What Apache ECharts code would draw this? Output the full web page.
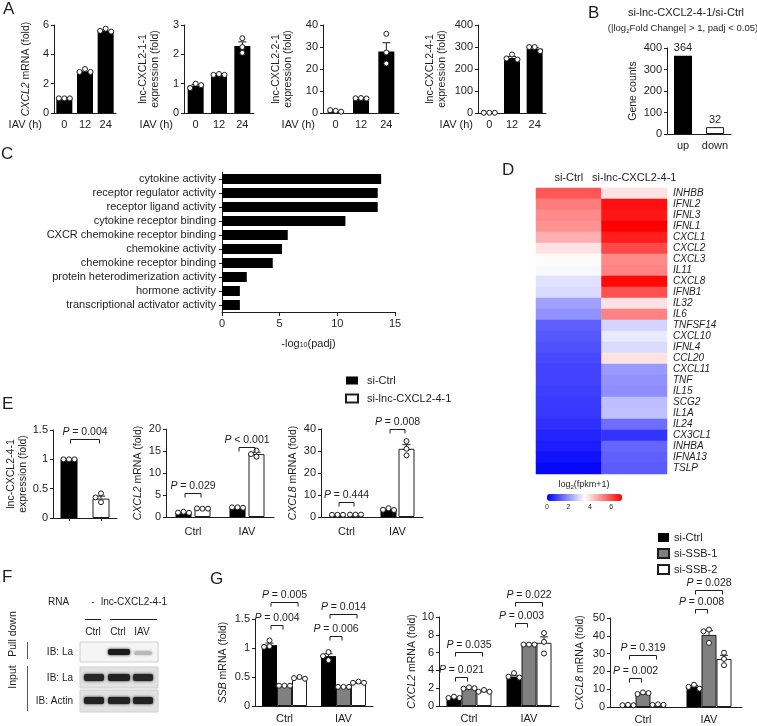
<!DOCTYPE html>
<html><head><meta charset="utf-8">
<script src="https://cdn.jsdelivr.net/npm/echarts@6/dist/echarts.min.js"></script>
<style>html,body{margin:0;padding:0;background:#fff}#c{width:757px;height:726px}</style>
</head><body><div id="c"></div>
<script>
// ================= DATA =================
const iavTimes = ['0', '12', '24'];
const a1Bars = [1.0, 2.85, 5.6];
const a1Dots = [[1.0, 1.0, 1.0], [3.0, 2.8, 2.8], [5.75, 5.6, 5.55]];
const a2Bars = [0.93, 1.3, 2.28];
const a2Dots = [[1.0, 0.85, 0.95], [1.33, 1.3, 1.3], [2.55, 2.25, 2.05]];
const a3Bars = [0.8, 6.6, 28];
const a3Dots = [[1.0, 1.3, 0.6], [6.8, 6.7, 6.6], [36, 27.5, 22.5]];
const a4Bars = [1, 250, 292];
const a4Dots = [[1, 1, 1], [266, 248, 243], [300, 300, 281]];

const bCats = ['up', 'down'];
const bCounts = [364, 32];

const cTerms = ['cytokine activity', 'receptor regulator activity', 'receptor ligand activity',
  'cytokine receptor binding', 'CXCR chemokine receptor binding', 'chemokine activity',
  'chemokine receptor binding', 'protein heterodimerization activity', 'hormone activity',
  'transcriptional activator activity'];
const cLogP = [13.8, 13.5, 13.5, 10.7, 5.7, 5.2, 4.4, 2.15, 1.55, 1.55];

const dCols = ['si-Ctrl', 'si-lnc-CXCL2-4-1'];
const dGenes = ['INHBB', 'IFNL2', 'IFNL3', 'IFNL1', 'CXCL1', 'CXCL2', 'CXCL3', 'IL11', 'CXCL8', 'IFNB1',
  'IL32', 'IL6', 'TNFSF14', 'CXCL10', 'IFNL4', 'CCL20', 'CXCL11', 'TNF', 'IL15', 'SCG2', 'IL1A', 'IL24',
  'CX3CL1', 'INHBA', 'IFNA13', 'TSLP'];
const dCtrl = [5.8, 5.3, 5.1, 5.0, 4.6, 3.9, 3.55, 3.4, 3.1, 3.0, 2.2, 2.0, 1.3, 1.2, 1.1, 1.0, 0.9, 0.9, 0.85, 0.8, 0.75, 0.65, 0.5, 0.4, 0.25, 0.1];
const dLnc = [3.9, 6.8, 6.7, 7.0, 6.6, 6.0, 5.1, 5.2, 6.9, 5.9, 3.9, 5.2, 2.9, 3.2, 3.0, 3.9, 2.1, 2.0, 1.95, 2.6, 2.65, 1.5, 0.7, 1.4, 1.3, 1.25];
const dScaleMax = 7;

const eGroups = ['si-Ctrl', 'si-lnc-CXCL2-4-1'];
const eConds = ['Ctrl', 'IAV'];
const e1Vals = [1.0, 0.33];
const e1Dots = [[1.0, 1.0, 1.0], [0.42, 0.35, 0.27]];
const e1P = [[0, 0, 1, 0, 1.35, '= 0.004']];
const e2Ctrl = [1.0, 2.1], e2Lnc = [1.9, 14.3];
const e2CtrlDots = [[1.2, 1.0, 0.95], [2.2, 2.2, 2.1]], e2LncDots = [[1.9, 1.95, 1.9], [15.1, 14.3, 13.7]];
const e2P = [[0, 0, 0, 1, 5.4, '= 0.029'], [1, 0, 1, 1, 16, '< 0.001']];
const e3Ctrl = [1.0, 3.5], e3Lnc = [1.2, 31];
const e3CtrlDots = [[1.0, 1.0, 1.0], [4.0, 3.3, 3.2]], e3LncDots = [[1.1, 1.1, 1.1], [34.5, 31, 28]];
const e3P = [[0, 0, 0, 1, 6.8, '= 0.444'], [1, 0, 1, 1, 40, '= 0.008']];

const gGroups = ['si-Ctrl', 'si-SSB-1', 'si-SSB-2'];
const gConds = ['Ctrl', 'IAV'];
const g1Ctrl = [1.05, 0.86], g1S1 = [0.35, 0.33], g1S2 = [0.48, 0.40];
const g1CtrlDots = [[1.13, 1.03, 1.02], [0.93, 0.86, 0.79]], g1S1Dots = [[0.35, 0.35, 0.35], [0.33, 0.33, 0.33]], g1S2Dots = [[0.5, 0.48, 0.47], [0.42, 0.4, 0.4]];
const g1P = [[0, 0, 0, 1, 1.40, '= 0.004'], [0, 0, 0, 2, 1.785, '= 0.005'], [1, 0, 1, 1, 1.2, '= 0.006'], [1, 0, 1, 2, 1.58, '= 0.014']];
const g2Ctrl = [0.95, 3.3], g2S1 = [1.95, 6.85], g2S2 = [1.65, 7.1];
const g2CtrlDots = [[1.05, 0.9, 0.9], [3.7, 3.3, 3.2]], g2S1Dots = [[2.1, 1.95, 2.0], [6.9, 6.9, 6.9]], g2S2Dots = [[1.8, 1.6, 1.6], [8.2, 7.2, 5.9]];
const g2P = [[0, 0, 0, 1, 3.26, '= 0.021'], [0, 0, 0, 2, 6.07, '= 0.035'], [1, 0, 1, 1, 9.3, '= 0.003'], [1, 0, 1, 2, 11.7, '= 0.022']];
const g3Ctrl = [1.0, 11.5], g3S1 = [7.5, 40.5], g3S2 = [1.3, 27];
const g3CtrlDots = [[1.2, 1.0, 1.0], [12.5, 11.3, 10.3]], g3S1Dots = [[8.2, 7.3, 7.8], [43.5, 42.5, 36]], g3S2Dots = [[1.5, 1.2, 1.2], [30.5, 27, 23.5]];
const g3P = [[0, 0, 0, 1, 16.3, '= 0.002'], [0, 0, 0, 2, 29.2, '= 0.319'], [1, 0, 1, 1, 55, '= 0.008'], [1, 0, 1, 2, 65.5, '= 0.028']];

// ================= BUILD =================
const FONT = 'Liberation Sans, Arial, sans-serif';
const INK = '#1e1e1e';
const BLACK = '#000000', GRAY = '#808080', WHITE = '#ffffff';
const grids = [], xAxes = [], yAxes = [], series = [], graphics = [];
const italicRich = { i: { fontStyle: 'italic', fontFamily: FONT, color: INK, fontSize: 10.5 } };

function sem(a) {
  const n = a.length, m = a.reduce((s, v) => s + v, 0) / n;
  const sd = Math.sqrt(a.reduce((s, v) => s + (v - m) * (v - m), 0) / (n - 1));
  return sd / Math.sqrt(n);
}

function dotsRenderer(nS, step) {
  const r = 2.5, d = 2 * r + 0.5;
  return function (params, api) {
    const k = api.value(0), m = api.value(1), e = api.value(2), s = api.value(3);
    const cx = api.coord([k, 0])[0] + (s - (nS - 1) / 2) * step;
    const kids = [];
    if (e > 0.0001) {
      const y1 = api.coord([k, m])[1], y2 = api.coord([k, m + e])[1];
      if (y1 - y2 > 1) {
        kids.push({ type: 'line', shape: { x1: cx, y1: y1, x2: cx, y2: y2 }, style: { stroke: INK, lineWidth: 1 } });
        kids.push({ type: 'line', shape: { x1: cx - 4, y1: y2, x2: cx + 4, y2: y2 }, style: { stroke: INK, lineWidth: 1 } });
      }
    }
    const placed = [];
    for (let j = 4; j < 7; j++) {
      const v = api.value(j);
      if (v == null || isNaN(v)) continue;
      const y = api.coord([k, v])[1];
      const cands = [0, -d, d, -2 * d, 2 * d];
      for (const o of cands) {
        if (placed.every(p => Math.hypot(p[0] - o, p[1] - y) >= d - 0.3)) { placed.push([o, y]); break; }
      }
    }
    placed.forEach(p => kids.push({ type: 'circle', shape: { cx: cx + p[0], cy: p[1], r: r }, style: { fill: '#fff', stroke: INK, lineWidth: 1 }, z2: 10 }));
    return { type: 'group', children: kids };
  };
}

function bracketRenderer(nS, step, list) {
  return function (params, api) {
    const b = list[params.dataIndex];
    const p1 = api.coord([b[0], b[4]]), p2 = api.coord([b[2], b[4]]);
    const x1 = p1[0] + (b[1] - (nS - 1) / 2) * step + 1.5;
    const x2 = p2[0] + (b[3] - (nS - 1) / 2) * step - 1.5;
    const y = Math.round(p1[1]) + 0.5;
    return {
      type: 'group', children: [
        { type: 'polyline', shape: { points: [[x1, y + 4], [x1, y], [x2, y], [x2, y + 4]] }, style: { stroke: INK, lineWidth: 1, fill: null } },
        { type: 'text', x: (x1 + x2) / 2, y: y - 2, style: { text: '{i|P} ' + b[5], align: 'center', verticalAlign: 'bottom', fontSize: 10.5, fontFamily: FONT, fill: INK, rich: { i: { fontStyle: 'italic', fontSize: 10.5, fontFamily: FONT, fill: INK } } } }
      ]
    };
  };
}

function addBarPanel(c) {
  const gi = grids.length;
  grids.push({ left: c.box[0], top: c.box[1], width: c.box[2], height: c.box[3] });
  xAxes.push({
    type: 'category', gridIndex: gi, data: c.cats,
    axisLine: { lineStyle: { color: INK } },
    axisTick: { show: !!c.xTicks, alignWithLabel: true, length: 3, lineStyle: { color: INK } },
    axisLabel: { show: c.xLabels !== false, interval: 0, color: INK, fontSize: 11, fontFamily: FONT, margin: c.xMargin || 6 },
    name: c.xName || '', nameLocation: 'start', nameGap: c.xNameGap || 10,
    nameTextStyle: { color: INK, fontSize: 11, fontFamily: FONT, align: 'right', verticalAlign: 'top', padding: [c.xMargin || 6, 0, 0, 0] }
  });
  yAxes.push({
    type: 'value', gridIndex: gi, min: 0, max: c.yMax, interval: c.yInterval,
    splitLine: { show: false },
    axisLine: { show: true, lineStyle: { color: INK } },
    axisTick: { show: true, length: 3, lineStyle: { color: INK } },
    axisLabel: { color: INK, fontSize: 11, fontFamily: FONT, margin: 5 },
    name: c.yName, nameLocation: 'middle', nameGap: c.yNameGap,
    nameTextStyle: { color: INK, fontSize: 10.5, fontFamily: FONT, lineHeight: 12, rich: italicRich }
  });
  const nS = c.groups.length, bw = c.bw, gap = c.gap || 0, step = bw + gap;
  c.groups.forEach((g, s) => {
    series.push({
      type: 'bar', name: g.name, xAxisIndex: gi, yAxisIndex: gi, barWidth: bw, barGap: (gap / bw * 100) + '%',
      data: g.values.map((v, k) => g.colors ? { value: v, itemStyle: { color: g.colors[k], borderColor: INK, borderWidth: g.colors[k] === BLACK ? 0 : 1 } } : v),
      itemStyle: { color: g.color || BLACK, borderColor: INK, borderWidth: (g.color || BLACK) === BLACK ? 0 : 1 },
      label: g.label ? { show: true, position: 'top', color: INK, fontSize: 11, fontFamily: FONT, distance: 2 } : { show: false },
      silent: true, z: 2
    });
  });
  const dd = [];
  c.groups.forEach((g, s) => {
    if (!g.dots) return;
    g.values.forEach((v, k) => { dd.push([k, v, sem(g.dots[k]), s].concat(g.dots[k])); });
  });
  if (dd.length) series.push({ type: 'custom', xAxisIndex: gi, yAxisIndex: gi, data: dd, renderItem: dotsRenderer(nS, step), z: 5, silent: true, encode: { x: 0, y: 1 } });
  if (c.brackets) series.push({ type: 'custom', xAxisIndex: gi, yAxisIndex: gi, data: c.brackets.map(b => [b[0], b[4]]), renderItem: bracketRenderer(nS, step, c.brackets), z: 6, silent: true, encode: { x: 0, y: 1 } });
  return gi;
}

function text(x, y, str, opt) {
  graphics.push(Object.assign({ type: 'text', x: x, y: y, silent: true, style: Object.assign({ text: str, fill: INK, fontSize: 11, fontFamily: FONT, align: 'left', verticalAlign: 'middle' }, (opt && opt.style) || {}) }, (opt && opt.el) || {}));
}

// ---------- Panel A ----------
addBarPanel({ box: [54, 25, 62, 88], cats: iavTimes, yMax: 6, yInterval: 2, yName: '{i|CXCL2} mRNA (fold)', yNameGap: 22, xName: 'IAV (h)', xNameGap: 12, bw: 16, groups: [{ values: a1Bars, dots: a1Dots }] });
addBarPanel({ box: [184, 25, 70, 88], cats: iavTimes, yMax: 3, yInterval: 1, yName: 'lnc-CXCL2-1-1\nexpression (fold)', yNameGap: 23, xName: 'IAV (h)', xNameGap: 11, bw: 16, groups: [{ values: a2Bars, dots: a2Dots }] });
addBarPanel({ box: [323, 25, 76, 88], cats: iavTimes, yMax: 40, yInterval: 10, yName: 'lnc-CXCL2-2-1\nexpression (fold)', yNameGap: 29, xName: 'IAV (h)', xNameGap: 8, bw: 16, groups: [{ values: a3Bars, dots: a3Dots }] });
addBarPanel({ box: [478, 25, 68, 88], cats: iavTimes, yMax: 400, yInterval: 100, yName: 'lnc-CXCL2-4-1\nexpression (fold)', yNameGap: 30, xName: 'IAV (h)', xNameGap: 5, bw: 16, groups: [{ values: a4Bars, dots: a4Dots }] });

// ---------- Panel B ----------
addBarPanel({ box: [667, 48, 64, 86], cats: bCats, yMax: 400, yInterval: 100, yName: 'Gene counts', yNameGap: 28, bw: 18, xMargin: 6,
  groups: [{ values: bCounts, colors: [BLACK, WHITE], label: true }] });

// ---------- Panel C ----------
(function () {
  const gi = grids.length;
  grids.push({ left: 222, top: 172, width: 173, height: 140 });
  xAxes.push({ type: 'value', gridIndex: gi, min: 0, max: 15, interval: 5, splitLine: { show: false },
    axisLine: { show: true, lineStyle: { color: INK } }, axisTick: { show: true, length: 4, lineStyle: { color: INK } },
    axisLabel: { color: INK, fontSize: 11, fontFamily: FONT, margin: 6 },
    name: '-log{s|10}(padj)', nameLocation: 'middle', nameGap: 26,
    nameTextStyle: { color: INK, fontSize: 11, fontFamily: FONT, rich: { s: { fontSize: 7, fontFamily: FONT, color: INK, verticalAlign: 'bottom', lineHeight: 8, padding: [8, 0, 0, 0] } } } });
  yAxes.push({ type: 'category', gridIndex: gi, data: cTerms, inverse: true,
    axisLine: { show: true, lineStyle: { color: INK } }, axisTick: { show: true, alignWithLabel: true, interval: 0, length: 3, lineStyle: { color: INK } },
    axisLabel: { interval: 0, color: INK, fontSize: 11, fontFamily: FONT, margin: 6 } });
  series.push({ type: 'bar', xAxisIndex: gi, yAxisIndex: gi, data: cLogP, barWidth: 10, itemStyle: { color: BLACK }, silent: true });
})();

// ---------- Panel D (heatmap) ----------
let heatIdx;
(function () {
  const gi = grids.length;
  grids.push({ left: 536, top: 188, width: 131, height: 286 });
  xAxes.push({ type: 'category', gridIndex: gi, data: dCols, position: 'top', axisLine: { show: false }, axisTick: { show: false },
    axisLabel: { interval: 0, color: INK, fontSize: 11, fontFamily: FONT, margin: 5 } });
  yAxes.push({ type: 'category', gridIndex: gi, data: dGenes, inverse: true, position: 'right', axisLine: { show: false }, axisTick: { show: false },
    axisLabel: { interval: 0, color: INK, fontSize: 10, fontStyle: 'italic', fontFamily: FONT, margin: 6 } });
  const hd = [];
  dGenes.forEach((g, i) => { hd.push([0, i, dCtrl[i]]); hd.push([1, i, dLnc[i]]); });
  heatIdx = series.length;
  series.push({ type: 'heatmap', xAxisIndex: gi, yAxisIndex: gi, data: hd, silent: true, itemStyle: { borderWidth: 0 } });
  // colour bar scale axis
  const gc = grids.length;
  grids.push({ left: 547, top: 494, width: 75, height: 7 });
  xAxes.push({ type: 'value', gridIndex: gc, min: 0, max: dScaleMax, interval: 2, axisLine: { show: false }, axisTick: { show: false }, splitLine: { show: false },
    axisLabel: { color: INK, fontSize: 7, fontFamily: FONT, margin: 3, showMaxLabel: false } });
  yAxes.push({ type: 'value', gridIndex: gc, show: false, min: 0, max: 1 });
})();

// ---------- Panel E ----------
addBarPanel({ box: [53, 430, 64, 88], cats: eGroups, yMax: 1.5, yInterval: 0.5, yName: 'lnc-CXCL2-4-1\nexpression (fold)', yNameGap: 24, xLabels: false, xTicks: true, bw: 17,
  groups: [{ values: e1Vals, colors: [BLACK, WHITE], dots: e1Dots }], brackets: e1P });
addBarPanel({ box: [166, 429, 108, 88], cats: eConds, yMax: 20, yInterval: 5, yName: '{i|CXCL2} mRNA (fold)', yNameGap: 22, xMargin: 9, bw: 16, gap: 3,
  groups: [{ name: eGroups[0], color: BLACK, values: e2Ctrl, dots: e2CtrlDots }, { name: eGroups[1], color: WHITE, values: e2Lnc, dots: e2LncDots }], brackets: e2P });
addBarPanel({ box: [321, 429, 102, 88], cats: eConds, yMax: 40, yInterval: 10, yName: '{i|CXCL8} mRNA (fold)', yNameGap: 22, xMargin: 9, bw: 16, gap: 2,
  groups: [{ name: eGroups[0], color: BLACK, values: e3Ctrl, dots: e3CtrlDots }, { name: eGroups[1], color: WHITE, values: e3Lnc, dots: e3LncDots }], brackets: e3P });

// ---------- Panel G ----------
addBarPanel({ box: [255, 619, 118, 87], cats: gConds, yMax: 1.5, yInterval: 0.5, yName: '{i|SSB} mRNA (fold)', yNameGap: 26, xMargin: 7, bw: 15,
  groups: [{ name: gGroups[0], color: BLACK, values: g1Ctrl, dots: g1CtrlDots }, { name: gGroups[1], color: GRAY, values: g1S1, dots: g1S1Dots }, { name: gGroups[2], color: WHITE, values: g1S2, dots: g1S2Dots }], brackets: g1P });
addBarPanel({ box: [439, 617, 120, 89], cats: gConds, yMax: 10, yInterval: 2, yName: '{i|CXCL2} mRNA (fold)', yNameGap: 20, xMargin: 7, bw: 15,
  groups: [{ name: gGroups[0], color: BLACK, values: g2Ctrl, dots: g2CtrlDots }, { name: gGroups[1], color: GRAY, values: g2S1, dots: g2S1Dots }, { name: gGroups[2], color: WHITE, values: g2S2, dots: g2S2Dots }], brackets: g2P });
addBarPanel({ box: [610, 618, 132, 89], cats: gConds, yMax: 50, yInterval: 10, yName: '{i|CXCL8} mRNA (fold)', yNameGap: 24, xMargin: 7, bw: 15,
  groups: [{ name: gGroups[0], color: BLACK, values: g3Ctrl, dots: g3CtrlDots }, { name: gGroups[1], color: GRAY, values: g3S1, dots: g3S1Dots }, { name: gGroups[2], color: WHITE, values: g3S2, dots: g3S2Dots }], brackets: g3P });

// ---------- Texts / letters ----------
const L = { style: { fontSize: 17, verticalAlign: 'top' } };
text(3, 1, 'A', L); text(588, 5, 'B', L); text(1, 146, 'C', L); text(502, 162, 'D', L);
text(2, 396, 'E', L); text(2, 569, 'F', L); text(210, 571, 'G', L);
text(686, 13, 'si-lnc-CXCL2-4-1/si-Ctrl', { style: { align: 'center', fontSize: 11 } });
text(683, 28, '(|log{s|2}Fold Change| > 1, padj < 0.05)', { style: { align: 'center', fontSize: 9.5, rich: { s: { fontSize: 6, fontFamily: FONT, fill: INK, verticalAlign: 'bottom', padding: [6, 0, 0, 0] } } } });
text(584, 485, 'log{s|2}(fpkm+1)', { style: { align: 'center', fontSize: 9, rich: { s: { fontSize: 6, fontFamily: FONT, fill: INK, verticalAlign: 'bottom', padding: [5, 0, 0, 0] } } } });

// ---------- Panel F (western blot illustration) ----------
const F10 = { fontSize: 10 };
text(48, 602, 'RNA', { style: F10 }); text(93, 602, '-', { style: { align: 'center', fontSize: 10 } }); text(134, 602, 'lnc-CXCL2-4-1', { style: { align: 'center', fontSize: 10 } });
graphics.push({ type: 'line', shape: { x1: 85, y1: 619.5, x2: 101, y2: 619.5 }, style: { stroke: INK, lineWidth: 1 } });
graphics.push({ type: 'line', shape: { x1: 110, y1: 619.5, x2: 157, y2: 619.5 }, style: { stroke: INK, lineWidth: 1 } });
text(93, 632, 'Ctrl', { style: { align: 'center', fontSize: 10 } }); text(118, 632, 'Ctrl', { style: { align: 'center', fontSize: 10 } }); text(142, 632, 'IAV', { style: { align: 'center', fontSize: 10 } });
text(73, 652, 'IB: La', { style: { align: 'right', fontSize: 10 } }); text(73, 678, 'IB: La', { style: { align: 'right', fontSize: 10 } }); text(73, 701, 'IB: Actin', { style: { align: 'right', fontSize: 10 } });
text(13, 634, 'Pull down', { style: { align: 'center', fontSize: 10.5 }, el: { rotation: Math.PI / 2 } });
text(13, 677, 'Input', { style: { align: 'center', fontSize: 10.5 }, el: { rotation: Math.PI / 2 } });
graphics.push({ type: 'line', shape: { x1: 27.5, y1: 642, x2: 27.5, y2: 659 }, style: { stroke: '#555', lineWidth: 1 } });
graphics.push({ type: 'line', shape: { x1: 27.5, y1: 666, x2: 27.5, y2: 711 }, style: { stroke: '#555', lineWidth: 1 } });
function blot(y, h, bg) { graphics.push({ type: 'rect', shape: { x: 80, y: y, width: 78, height: h }, style: { fill: bg, stroke: '#cfcfcf', lineWidth: 1 } }); }
function band(x, y, w, h, col, blur) { graphics.push({ type: 'rect', shape: { x: x, y: y, width: w, height: h, r: 2 }, style: { fill: col, shadowBlur: blur, shadowColor: col } }); }
blot(642, 20, '#f5f5f5'); blot(667, 21, '#e2e2e2'); blot(690, 22, '#e2e2e2');
band(108, 649, 22, 6, '#1c1c1c', 3); band(134, 651, 18, 4, '#b8b8b8', 3);
band(84, 674, 20, 7, '#262626', 3); band(108, 674, 22, 7, '#202020', 3); band(133, 674, 20, 7, '#262626', 3);
band(84, 697, 20, 7, '#222', 3); band(108, 697, 22, 7, '#222', 3); band(133, 697, 20, 7, '#222', 3);

const option = {
  animation: false,
  textStyle: { fontFamily: FONT },
  grid: grids, xAxis: xAxes, yAxis: yAxes, series: series, graphic: graphics,
  legend: [
    { data: eGroups, orient: 'vertical', left: 345, top: 375, icon: 'rect', itemWidth: 12, itemHeight: 8, itemGap: 7, padding: 0, selectedMode: false, textStyle: { color: INK, fontSize: 11, fontFamily: FONT, padding: [0, 0, 0, 4] } },
    { data: gGroups, orient: 'vertical', left: 657, top: 532, icon: 'rect', itemWidth: 11, itemHeight: 9, itemGap: 5, padding: 0, selectedMode: false, textStyle: { color: INK, fontSize: 11, fontFamily: FONT } }
  ],
  visualMap: [{ type: 'continuous', seriesIndex: heatIdx, dimension: 2, min: 0, max: dScaleMax, orient: 'horizontal', left: 547, top: 494, itemWidth: 7, itemHeight: 75, padding: 0, calculable: false, text: null, inRange: { color: ['#0000ff', '#ffffff', '#ff0000'] }, textStyle: { fontSize: 0 } }]
};
const chart = echarts.init(document.getElementById('c'), null, { renderer: 'canvas' });
chart.setOption(option);
</script></body></html>
